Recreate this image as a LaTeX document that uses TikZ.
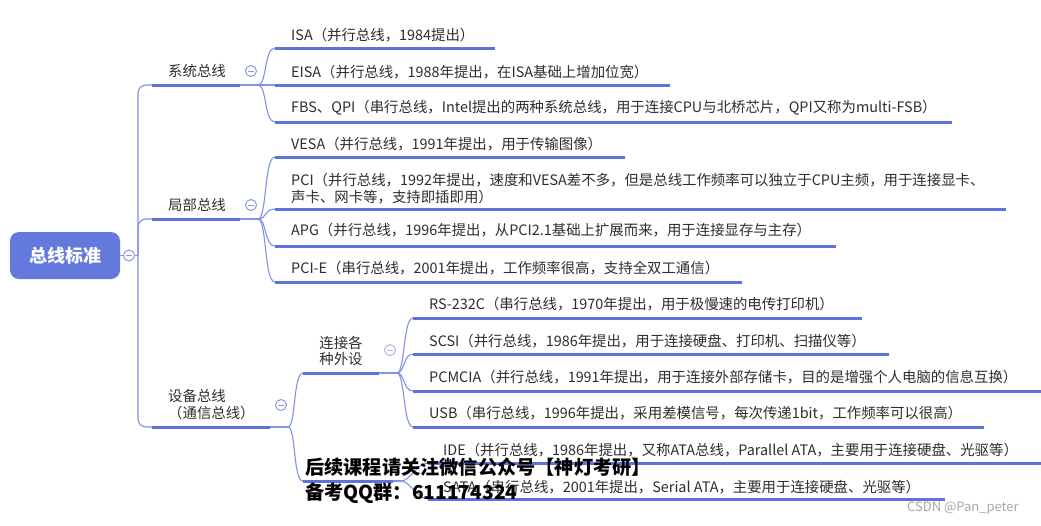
\documentclass[tikz,border=0pt]{standalone}
\usepackage{fontspec}
\setmainfont{Noto Sans CJK SC}
\definecolor{connC}{HTML}{7F92E3}
\definecolor{ulC}{HTML}{5E73DA}
\definecolor{rootC}{HTML}{6479DC}
\definecolor{txtC}{HTML}{2E2E2E}
\definecolor{foldC}{HTML}{8A98E2}
\definecolor{foldL}{HTML}{BBB0E3}
\definecolor{wmC}{HTML}{A8A8A8}
\begin{document}
\begin{tikzpicture}[x=1pt,y=-1pt,
  conn/.style={draw=connC,line width=1.1pt},
  uline/.style={draw=ulC,line width=3pt},
  lbl/.style={anchor=west,inner sep=0pt,text=txtC,font=\fontsize{14.4}{17}\selectfont,align=left},
  clbl/.style={inner sep=0pt,text=txtC,font=\fontsize{14.4}{15.5}\selectfont,align=left},
  fold/.style={circle,draw=#1,fill=white,line width=1pt,minimum size=11pt,inner sep=0pt,
    path picture={\draw[#1,line width=1pt] ([xshift=-2.6pt]path picture bounding box.center) -- ([xshift=2.6pt]path picture bounding box.center);}},
  fold/.default=foldC,
  rootbox/.style={rounded corners=9pt,fill=rootC,minimum width=110pt,minimum height=47pt,
    text=white,font=\fontsize{18}{20}\selectfont\bfseries,inner sep=0pt},
  wm/.style={anchor=west,inner sep=0pt,text=black,font=\fontsize{19.2}{21}\selectfont\bfseries},
  csdn/.style={anchor=west,inner sep=0pt,text=wmC,font=\fontsize{13}{14}\selectfont},
  curv/.style={conn}
]
\fill[white] (0,0) rectangle (1041,525);
\useasboundingbox (0,0) rectangle (1041,525);

% ---------- root ----------
\node[rootbox] (root) at (65,255.5) {总线标准};
\coordinate (trunk) at (138,255.5);
\draw[conn] (root.east) -- (trunk);

% ---------- level 1 ----------
\coordinate (sysS) at (152,85);  \coordinate (sysE) at (240,85);  \coordinate (sysJ) at (258,85);
\coordinate (locS) at (152,219); \coordinate (locE) at (240,219); \coordinate (locJ) at (258,219);
\coordinate (devS) at (152,427); \coordinate (devE) at (270,427); \coordinate (devJ) at (288,427);
\draw[conn,rounded corners=8pt] (trunk) |- (sysS);
\draw[conn,rounded corners=8pt] (trunk) |- (locS);
\draw[conn,rounded corners=8pt] (trunk) |- (devS);
\draw[uline] (sysS) -- (sysE); \draw[conn] (sysE) -- (sysJ);
\draw[uline] (locS) -- (locE); \draw[conn] (locE) -- (locJ);
\draw[uline] (devS) -- (devE); \draw[conn] (devE) -- (devJ);
\node[lbl] (sys) at (168,71) {系统总线};
\node[lbl] (loc) at (168,205) {局部总线};
\node[lbl] (dev) at (168,405) {设备总线\\（通信总线）};

% ---------- system bus leaves ----------
\coordinate (isaS) at (275,48);  \coordinate (isaE) at (495,48);
\coordinate (eisaS) at (275,85); \coordinate (eisaE) at (670,85);
\coordinate (fbsS) at (275,122); \coordinate (fbsE) at (952,122);
\draw[curv] (sysJ) .. controls +(9,0) and +(-11,0) .. (isaS);
\draw[curv] (sysJ) -- (eisaS);
\draw[curv] (sysJ) .. controls +(9,0) and +(-11,0) .. (fbsS);
\draw[uline] (isaS) -- (isaE);
\draw[uline] (eisaS) -- (eisaE);
\draw[uline] (fbsS) -- (fbsE);
\node[lbl] (isa) at (291,35) {ISA（并行总线，1984提出）};
\node[lbl] (eisa) at (291,72) {EISA（并行总线，1988年提出，在ISA基础上增加位宽）};
\node[lbl] (fbs) at (291,108) {FBS、QPI（串行总线，Intel提出的两种系统总线，用于连接CPU与北桥芯片，QPI又称为multi-FSB）};

% ---------- local bus leaves ----------
\coordinate (vesaS) at (275,157); \coordinate (vesaE) at (625,157);
\coordinate (pciS) at (275,209);  \coordinate (pciE) at (1006,209);
\coordinate (apgS) at (275,246);  \coordinate (apgE) at (836,246);
\coordinate (pcieS) at (275,282); \coordinate (pcieE) at (742,282);
\draw[curv] (locJ) .. controls +(9,0) and +(-11,0) .. (vesaS);
\draw[curv] (locJ) .. controls +(9,0) and +(-11,0) .. (pciS);
\draw[curv] (locJ) .. controls +(9,0) and +(-11,0) .. (apgS);
\draw[curv] (locJ) .. controls +(9,0) and +(-11,0) .. (pcieS);
\draw[uline] (vesaS) -- (vesaE);
\draw[uline] (pciS) -- (pciE);
\draw[uline] (apgS) -- (apgE);
\draw[uline] (pcieS) -- (pcieE);
\node[lbl] (vesa) at (291,144) {VESA（并行总线，1991年提出，用于传输图像）};
\node[lbl] (pci) at (291,188.5) {PCI（并行总线，1992年提出，速度和VESA差不多，但是总线工作频率可以独立于CPU主频，用于连接显卡、\\声卡、网卡等，支持即插即用）};
\node[lbl] (apg) at (291,230) {APG（并行总线，1996年提出，从PCI2.1基础上扩展而来，用于连接显存与主存）};
\node[lbl] (pcie) at (291,268) {PCI-E（串行总线，2001年提出，工作频率很高，支持全双工通信）};

% ---------- device bus children ----------
\coordinate (perS) at (303,373); \coordinate (perE) at (379,373); \coordinate (perJ) at (397,373);
\coordinate (hidS) at (303,481); \coordinate (hidE) at (393,481); \coordinate (hidJ) at (401,481);
\draw[curv] (devJ) .. controls +(8,0) and +(-10,0) .. (perS);
\draw[curv] (devJ) .. controls +(8,0) and +(-10,0) .. (hidS);
\draw[uline] (perS) -- (perE); \draw[conn] (perE) -- (perJ);
\draw[uline] (hidS) -- (hidE); \draw[conn] (hidE) -- (hidJ);
\node[clbl] (per) at (341,351) {连接各\\种外设};

% ---------- peripheral leaves ----------
\coordinate (rsS) at (413,318);     \coordinate (rsE) at (862,318);
\coordinate (scsiS) at (413,354);   \coordinate (scsiE) at (889,354);
\coordinate (pcmS) at (413,391);    \coordinate (pcmE) at (1041,391);
\coordinate (usbS) at (413,427);    \coordinate (usbE) at (984,427);
\draw[curv] (perJ) .. controls +(8,0) and +(-10,0) .. (rsS);
\draw[curv] (perJ) .. controls +(8,0) and +(-10,0) .. (scsiS);
\draw[curv] (perJ) .. controls +(8,0) and +(-10,0) .. (pcmS);
\draw[curv] (perJ) .. controls +(8,0) and +(-10,0) .. (usbS);
\draw[uline] (rsS) -- (rsE);
\draw[uline] (scsiS) -- (scsiE);
\draw[uline] (pcmS) -- (pcmE);
\draw[uline] (usbS) -- (usbE);
\node[lbl] (rs) at (429,304) {RS-232C（串行总线，1970年提出，用于极慢速的电传打印机）};
\node[lbl] (scsi) at (429,341) {SCSI（并行总线，1986年提出，用于连接硬盘、打印机、扫描仪等）};
\node[lbl] (pcm) at (429,377) {PCMCIA（并行总线，1991年提出，用于连接外部存储卡，目的是增强个人电脑的信息互换）};
\node[lbl] (usb) at (429,413) {USB（串行总线，1996年提出，采用差模信号，每次传递1bit，工作频率可以很高）};

% ---------- hidden-node leaves ----------
\coordinate (ideS) at (428,463);  \coordinate (ideE) at (1041,463);
\coordinate (sataS) at (428,499); \coordinate (sataE) at (945,499);
\draw[curv] (hidJ) .. controls +(9,0) and +(-11,0) .. (ideS);
\draw[curv] (hidJ) .. controls +(9,0) and +(-11,0) .. (sataS);
\draw[uline] (ideS) -- (ideE);
\draw[uline] (sataS) -- (sataE);
\node[lbl] (ide) at (443,450) {IDE（并行总线，1986年提出，又称ATA总线，Parallel ATA，主要用于连接硬盘、光驱等）};
\node[lbl] (sata) at (443,487) {SATA（串行总线，2001年提出，Serial ATA，主要用于连接硬盘、光驱等）};

% ---------- fold markers ----------
\node[fold] (f0) at (129,255.5) {};
\node[fold] (f1) at (251,71) {};
\node[fold] (f2) at (251,205) {};
\node[fold] (f3) at (281,405) {};
\node[fold=foldL] (f4) at (390,350) {};

% ---------- overlays ----------
\node[wm] (wm1) at (305,467) {后续课程请关注微信公众号【神灯考研】};
\node[wm] (wm2) at (305,493) {备考QQ群：611174324};
\node[csdn] (cs) at (907,508) {CSDN @Pan\_peter};
\end{tikzpicture}
\end{document}
